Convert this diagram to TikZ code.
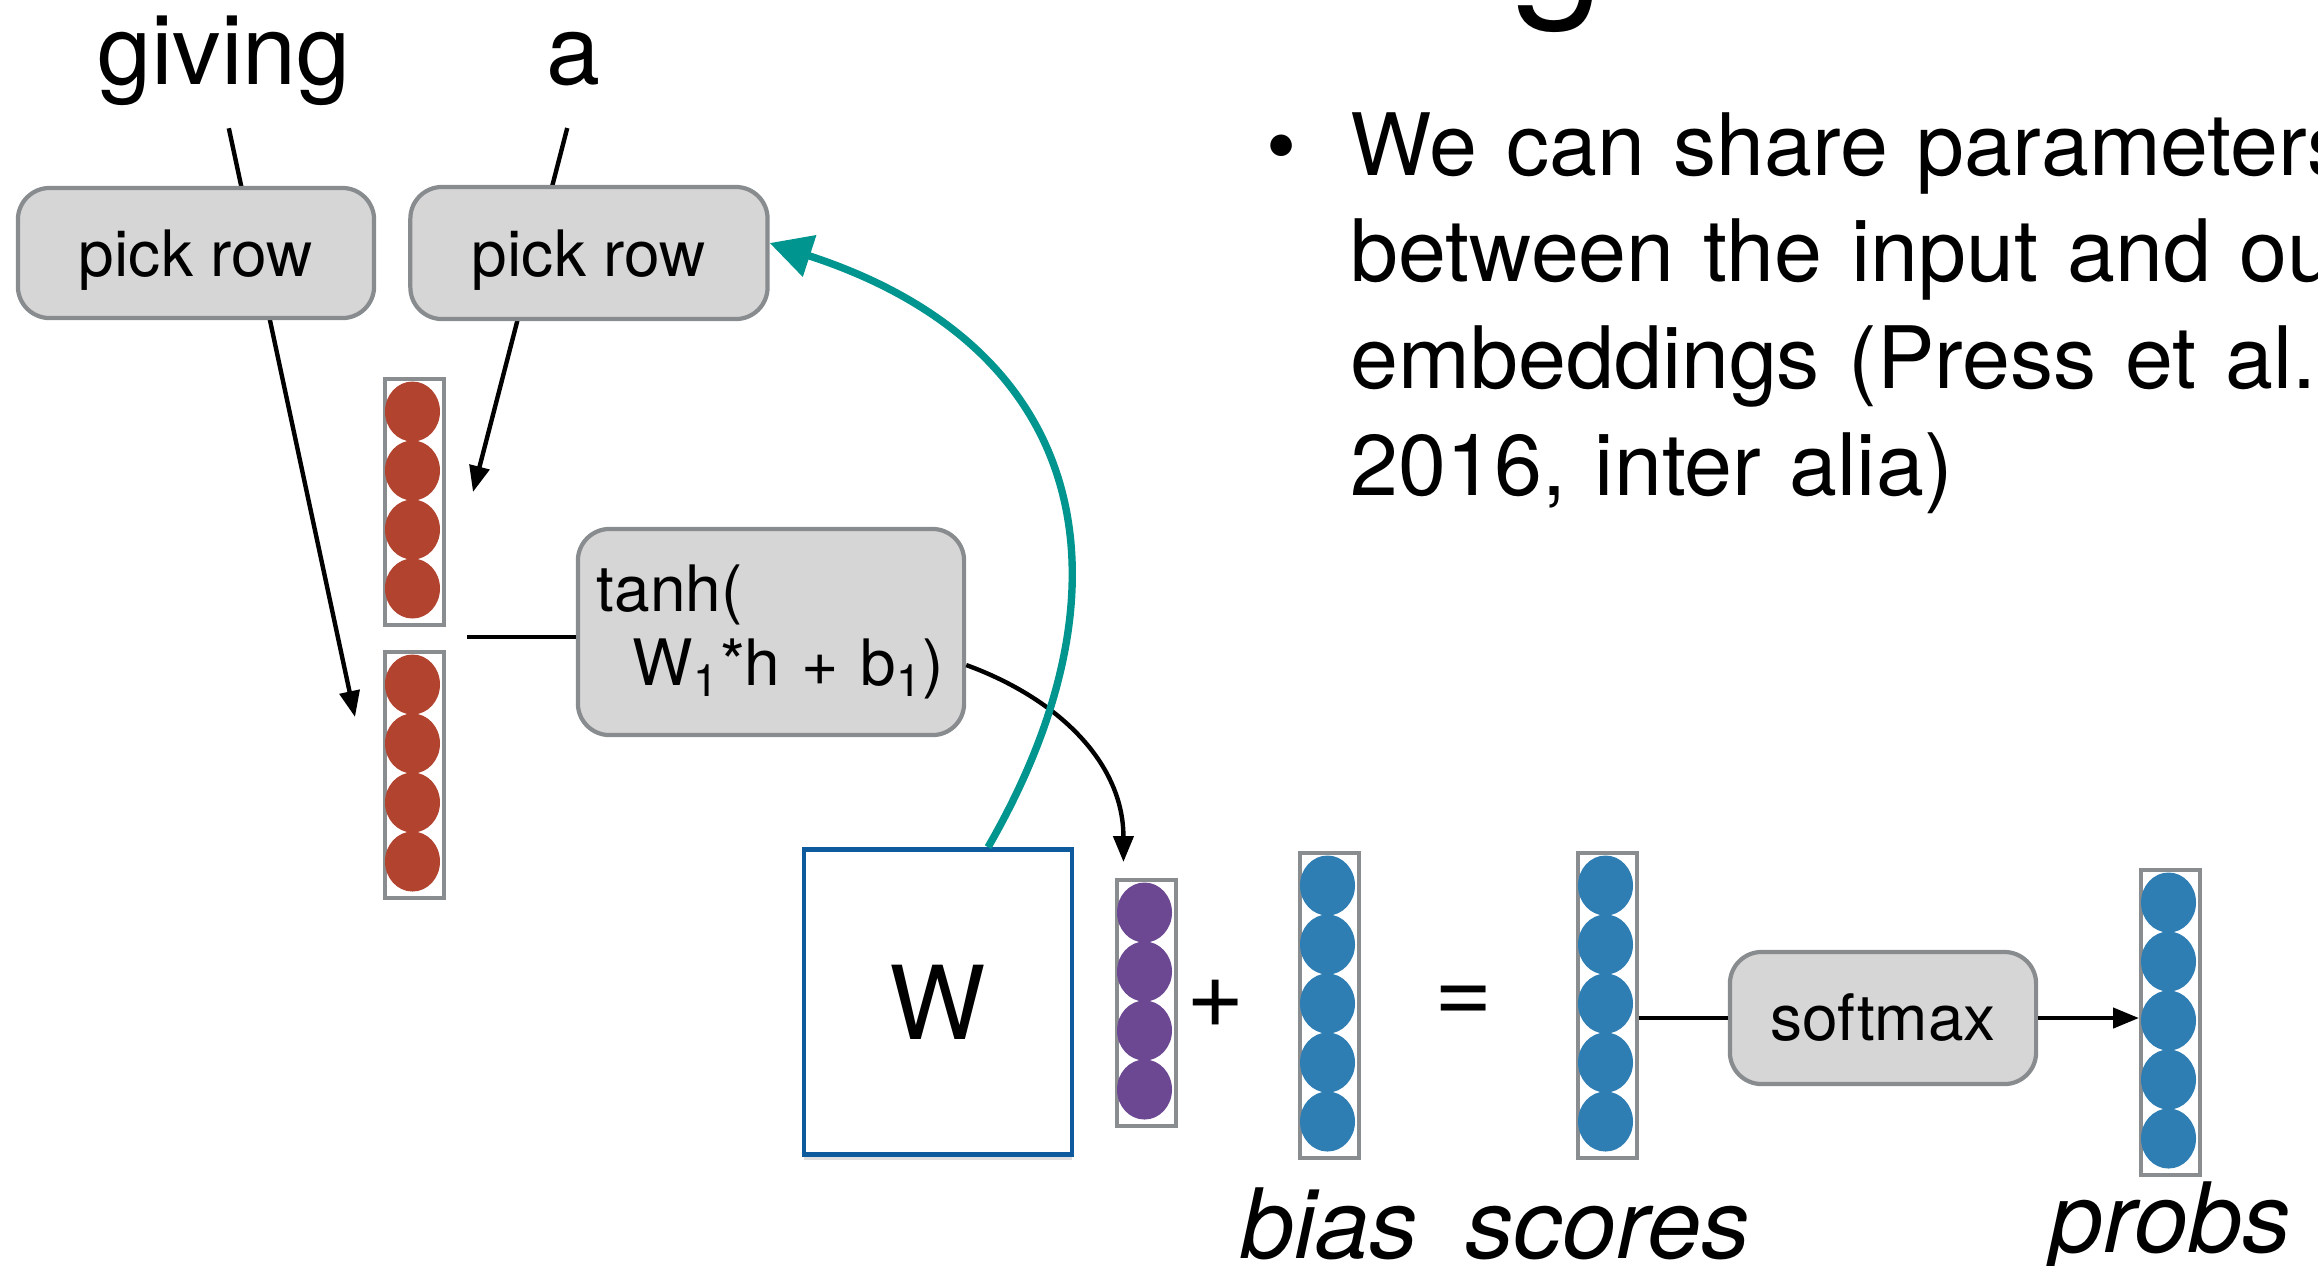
\documentclass[tikz,border=0pt]{standalone}
\usepackage{fontspec}
\setmainfont{TeX Gyre Heros}
\usetikzlibrary{positioning,arrows.meta,backgrounds,shadows}

\definecolor{boxfill}{HTML}{D6D6D6}
\definecolor{boxline}{HTML}{898C8F}
\definecolor{vecline}{HTML}{8A8D90}
\definecolor{embred}{HTML}{B2432F}
\definecolor{hidpurple}{HTML}{6B4891}
\definecolor{outblue}{HTML}{2E7EB4}
\definecolor{tealc}{HTML}{00958F}
\definecolor{wblue}{HTML}{0D5A9C}

\tikzset{
	word/.style={font=\fontsize{27.6}{33}\selectfont, inner sep=0pt, anchor=base, text depth=0.21cm},
	op/.style={draw=boxline, fill=boxfill, line width=1.2pt, rounded corners=9pt, font=\fontsize{18.2}{21}\selectfont, inner sep=0pt},
	vecbox/.style={draw=vecline, line width=1.1pt, minimum width=0.59cm, inner sep=0pt, anchor=north west},
	sym/.style={font=\fontsize{28.4}{34}\selectfont, inner sep=0pt},
	lbl/.style={font=\itshape\fontsize{27.6}{33}\selectfont, inner sep=0pt, anchor=base},
	conn/.style={line width=1.25pt, -{Triangle[length=0.26cm,width=0.2cm]}},
	tie/.style={draw=tealc, line width=2.1pt, -{Triangle[length=0.42cm,width=0.42cm]}}
}

% name, left, top, cells, colour
\newcommand{\embvec}[5]{%
	\node[vecbox, minimum height={#4*0.59cm+0.1cm}] (#1) at (#2,-#3) {};
	\foreach \k in {1,...,#4}
		\fill[#5] ({#2+29.5},{-#3-5-(\k-0.5)*59}) ellipse (27.5 and 30);
}

\begin{document}
\begin{tikzpicture}[x=0.01cm, y=0.01cm]
	\useasboundingbox (0,0) rectangle (2318,-1265);
	\clip (0,0) rectangle (2318,-1265);

	% title, mostly off the page
	\node[inner sep=0pt, anchor=base, font=\fontsize{48.4}{58}\selectfont] (title) at (1558,5) {g};

	% words and lookups
	\node[word]	(giving)	at (224,-84)	{giving};
	\node[word]	(a)		at (573,-84)	{a};
	\node[op, text depth=0pt, minimum width=3.56cm, minimum height=1.30cm]	(pr1)	at (196,-253)	{pick row};
	\node[op, text depth=0pt, minimum width=3.57cm, minimum height=1.32cm, right=0.32cm of pr1]	(pr2)	{pick row};

	\embvec{emba}{383}{377}{4}{embred}
	\embvec{embg}{383}{650}{4}{embred}

	% hidden layer
	\node[op, minimum width=3.86cm, minimum height=2.06cm, text width=3.48cm, inner xsep=0.19cm, align=left]
		(tanh) at (771,-632) {tanh(\\\hspace*{0.36cm}W\textsubscript{1}*h + b\textsubscript{1})};

	% output layer
	\node[draw=wblue, line width=1.3pt, fill=white, minimum width=2.68cm, minimum height=3.05cm,
		font=\fontsize{29}{35}\selectfont, drop shadow={shadow xshift=0pt, shadow yshift=-0.05cm, opacity=0.25}]
		(Wmat) at (938,-1002) {W};
	\embvec{hid}{1115}{878}{4}{hidpurple}
	\node[sym]	(plus)	at (1216,-1004)	{+};
	\embvec{bias}{1298}{851}{5}{outblue}
	\node[sym]	(eq)	at (1464,-1005)	{=};
	\embvec{scores}{1576}{851}{5}{outblue}
	\node[op, minimum width=3.06cm, minimum height=1.32cm]	(softmax)	at (1883,-1018)	{softmax};
	\embvec{probs}{2139}{868}{5}{outblue}

	\node[lbl]	(biaslbl)	at ([yshift=-0.98cm]bias.south)		{bias};
	\node[lbl]	(scoreslbl)	at ([yshift=-0.98cm]scores.south)	{scores};
	\node[lbl]	(probslbl)	at ([yshift=-0.75cm]probs.south)	{probs};

	% bullet text
	\node[anchor=base, inner sep=0pt, font=\fontsize{24.5}{30.4}\selectfont] (bullet) at (1282,-175) {\textbullet};
	\node[anchor=base west, inner sep=0pt, text width=12cm, align=left, font=\fontsize{24.5}{30.4}\selectfont]
		(point) at (1350,-175) {We can share parameters\\between the input and output\\embeddings (Press et al.,\\2016, inter alia)};

	% connectors
	\coordinate (gtip) at (355,-717);
	\coordinate (atip) at (473,-492);
	\coordinate (hcat) at (467,-637);
	\begin{scope}[on background layer]
		\draw[conn, shorten <=0.23cm] (giving.south) -- (gtip);
		\draw[conn, shorten <=0.23cm] (a.south) -- (atip);
	\end{scope}
	\draw[line width=1.25pt] (hcat) -- (hcat -| tanh.west);
	\draw[conn] ([yshift=-0.33cm]tanh.east) to[out=-20, in=90] ([xshift=-0.23cm, yshift=0.16cm]hid.north);
	\draw[tie] ([xshift=0.5cm]Wmat.north) to[out=60, in=-18, out looseness=1.2, in looseness=1.35] ([yshift=0.1cm]pr2.east);
	\draw[line width=1.25pt] (scores.east |- softmax.west) -- (softmax.west);
	\draw[conn] (softmax.east) -- (softmax.east -| probs.west);
\end{tikzpicture}
\end{document}
